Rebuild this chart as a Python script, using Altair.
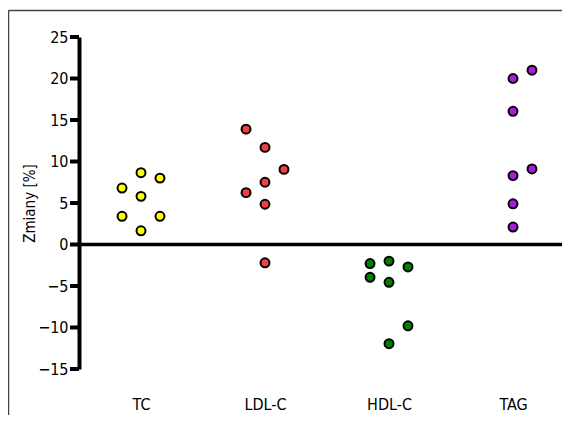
import altair as alt
import pandas as pd

categories = ["TC", "LDL-C", "HDL-C", "TAG"]
colors = ["#FFFF00", "#F04040", "#008000", "#A81CE0"]

tc_values = [6.8, 8.65, 8.0, 5.8, 3.4, 3.4, 1.65]
tc_slots = [-1, 0, 1, 0, -1, 1, 0]
ldl_values = [13.9, 11.7, 9.05, 7.5, 6.25, 4.85, -2.2]
ldl_slots = [-1, 0, 1, 0, -1, 0, 0]
hdl_values = [-2.3, -2.0, -2.7, -3.95, -4.55, -9.8, -11.95]
hdl_slots = [-1, 0, 1, -1, 0, 1, 0]
tag_values = [20.0, 21.0, 16.05, 9.1, 8.3, 4.9, 2.1]
tag_slots = [0, 1, 0, 1, 0, 0, 0]

y_ticks = [-15, -10, -5, 0, 5, 10, 15, 20, 25]

rows = []
for i, (vals, slots) in enumerate([(tc_values, tc_slots), (ldl_values, ldl_slots),
                                   (hdl_values, hdl_slots), (tag_values, tag_slots)]):
    for v, s in zip(vals, slots):
        rows.append({"group": categories[i], "pos": i + 0.153 * s, "value": v})
df = pd.DataFrame(rows)

W, H = 483, 332
FONT = "DejaVu Sans Condensed"
label_expr = "[" + ",".join(f"'{c}'" for c in categories) + "][datum.value]"

x_scale = alt.Scale(domain=[-0.5, 3.395], nice=False, zero=False)
y_scale = alt.Scale(domain=[-15, 25], nice=False)

points = alt.Chart(df).mark_point(
    shape="circle", filled=True, size=80, stroke="black", strokeWidth=2, opacity=1,
).encode(
    x=alt.X("pos:Q", scale=x_scale, axis=alt.Axis(
        values=[0, 1, 2, 3], labelExpr=label_expr, domain=False, ticks=False,
        grid=False, title=None, labelFontSize=16, labelFont=FONT,
        labelPadding=27, labelColor="black")),
    y=alt.Y("value:Q", scale=y_scale, axis=alt.Axis(
        values=y_ticks, title="Zmiany [%]", grid=False, domainColor="black",
        domainWidth=4, ticks=False,
        labelFontSize=16, labelFont=FONT, labelPadding=11, labelColor="black",
        titleFont=FONT, titleFontSize=15, titleFontWeight="normal",
        titleColor="black", titlePadding=0)),
    color=alt.Color("group:N", scale=alt.Scale(domain=categories, range=colors),
                    legend=None),
)

ticks = alt.Chart(pd.DataFrame({"t": y_ticks})).mark_rule(
    color="black", strokeWidth=4
).encode(y=alt.Y("t:Q", scale=y_scale), x=alt.value(-9), x2=alt.value(0))

zero = alt.Chart(pd.DataFrame({"z": [0]})).mark_rule(
    color="black", strokeWidth=3.5
).encode(y=alt.Y("z:Q", scale=y_scale), x=alt.value(0), x2=alt.value(W))

frame_left = alt.Chart(pd.DataFrame({"a": [0]})).mark_rule(
    color="#444444", strokeWidth=1.5
).encode(x=alt.value(-70.5), y=alt.value(-26.5), y2=alt.value(H + 50))

frame_top = alt.Chart(pd.DataFrame({"a": [0]})).mark_rule(
    color="#444444", strokeWidth=1.5
).encode(x=alt.value(-70.5), x2=alt.value(W + 10), y=alt.value(-26.5))

chart = alt.layer(frame_left, frame_top, ticks, zero, points).properties(
    width=W, height=H,
    background="white",
    autosize=alt.AutoSizeParams(type="none"),
    padding={"left": 71, "top": 29, "right": 0, "bottom": 46},
).configure_view(stroke=None, strokeWidth=0)

chart.save("out.html", embed_options={"renderer": "svg", "actions": False})
